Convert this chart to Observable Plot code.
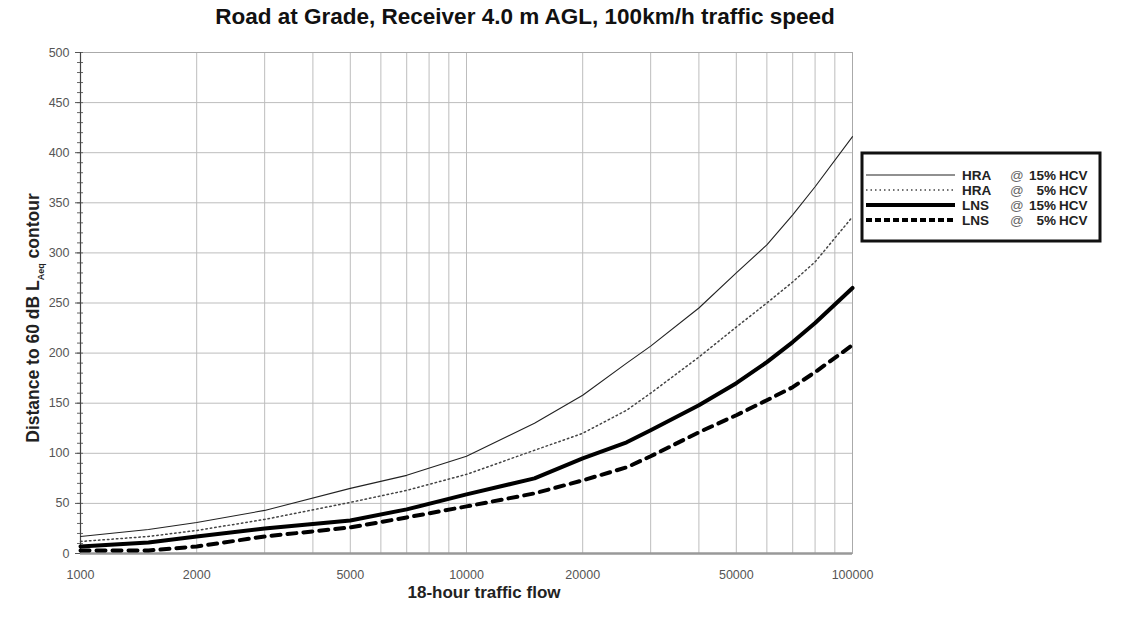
<!DOCTYPE html>
<html><head><meta charset="utf-8">
<script src="https://cdn.jsdelivr.net/npm/d3@7"></script>
<script src="https://cdn.jsdelivr.net/npm/@observablehq/plot@0.6"></script>
<style>
body{margin:0;background:#fff;font-family:"Liberation Sans",Arial,sans-serif;}
#wrap{position:relative;width:1143px;height:633px;overflow:hidden;}
#title{position:absolute;left:0;width:1050px;top:4px;text-align:center;font-weight:bold;font-size:22.5px;color:#111;}
#chart{position:absolute;left:0;top:0;}
#legend{position:absolute;left:0;top:0;}
</style></head><body>
<div id="wrap">
<div id="chart"></div>
<div id="title">Road at Grade, Receiver 4.0 m AGL, 100km/h traffic speed</div>
<svg id="legend" width="1143" height="633"></svg>
</div>
<script>
// ---- data ----
const flows = [1000, 1500, 2000, 3000, 5000, 7000, 10000, 15000, 20000, 26000, 30000, 40000, 50000, 60000, 70000, 80000, 100000];
const hra15 = [17, 24, 31, 43, 65, 78, 97, 130, 158, 190, 207, 245, 280, 308, 338, 366, 416];
const hra5  = [12, 17, 23, 34, 51, 63, 79, 103, 120, 143, 160, 196, 226, 250, 271, 291, 336];
const lns15 = [7, 11, 17, 25, 33, 44, 59, 75, 95, 111, 123, 148, 170, 191, 211, 230, 265];
const lns5  = [3, 3, 7, 17, 26, 36, 47, 60, 73, 86, 97, 121, 138, 153, 166, 181, 208];
const seriesNames = ["HRA @ 15% HCV", "HRA @  5% HCV", "LNS @ 15% HCV", "LNS @  5% HCV"];
const xTickLabels = [1000, 2000, 5000, 10000, 20000, 50000, 100000];
const yTickLabels = [0, 50, 100, 150, 200, 250, 300, 350, 400, 450, 500];

const styles = [
  {stroke: "#222", strokeWidth: 1.1},
  {stroke: "#444", strokeWidth: 1.5, strokeDasharray: "1.5,3"},
  {stroke: "#000", strokeWidth: 4},
  {stroke: "#000", strokeWidth: 4, strokeDasharray: "9,7"}
];
const seriesVals = [hra15, hra5, lns15, lns5];
const tables = seriesVals.map((vals, k) => flows.map((f, i) => ({flow: f, dist: vals[i], series: seriesNames[k]})));

const xGrid = [...d3.range(1000, 10000, 1000), ...d3.range(10000, 100001, 10000)];
const yMinor = d3.range(0, 501, 10);

const chart = Plot.plot({
  width: 1143, height: 633,
  marginLeft: 80, marginRight: 291, marginTop: 52, marginBottom: 80,
  x: {type: "log", domain: [1000, 100000]},
  y: {domain: [0, 500]},
  style: {fontFamily: "Liberation Sans, Arial, sans-serif", background: "#fff"},
  marks: [
    Plot.ruleX(xGrid, {stroke: "#bdbdbd", strokeWidth: 1}),
    Plot.ruleY(yTickLabels, {stroke: "#bdbdbd", strokeWidth: 1}),
    Plot.frame({stroke: "#aaa"}),
    Plot.ruleY(yMinor, {x1: 1000, x2: 1000 * Math.pow(10, 6 / 386), dx: -3, stroke: "#666", strokeWidth: 1}),
    Plot.axisY({ticks: yTickLabels, tickSize: 5, tickPadding: 6, fontSize: 12.5, color: "#555", label: null, tickFormat: d => String(d)}),
    Plot.axisX({ticks: xTickLabels, tickSize: 0, tickPadding: 17, fontSize: 12.5, color: "#555", label: null, tickFormat: d => String(d)}),
    Plot.ruleX([1000], {stroke: "#444", strokeWidth: 1.2}),
    Plot.ruleY([0], {stroke: "#999", strokeWidth: 2.5}),
    ...tables.map((t, k) => Plot.line(t, {x: "flow", y: "dist", ...styles[k], strokeLinejoin: "round"}))
  ]
});
document.getElementById("chart").appendChild(chart);

const svg = d3.select(chart);
// x axis title
svg.append("text").attr("x", 484).attr("y", 598).attr("text-anchor", "middle")
  .attr("font-size", 17).attr("font-weight", "bold").attr("fill", "#222")
  .attr("font-family", "Liberation Sans, Arial, sans-serif").text("18-hour traffic flow");
// y axis title with subscript
const yt = svg.append("text").attr("transform", "translate(39,318) rotate(-90)").attr("text-anchor", "middle")
  .attr("font-size", 17.5).attr("font-weight", "bold").attr("fill", "#222")
  .attr("font-family", "Liberation Sans, Arial, sans-serif");
yt.append("tspan").text("Distance to 60 dB L");
yt.append("tspan").attr("font-size", 9).attr("dy", 5).text("Aeq");
yt.append("tspan").attr("dy", -5).text(" contour");

// legend
const lg = d3.select("#legend");
lg.append("rect").attr("x", 862).attr("y", 153).attr("width", 238).attr("height", 88)
  .attr("fill", "#fff").attr("stroke", "#111").attr("stroke-width", 3);
const rowsY = [175, 190, 205, 220];
seriesNames.forEach((name, k) => {
  const y = rowsY[k];
  const st = styles[k];
  lg.append("line").attr("x1", 866).attr("x2", 955).attr("y1", y).attr("y2", y)
    .attr("stroke", st.stroke).attr("stroke-width", st.strokeWidth)
    .attr("stroke-dasharray", k === 3 ? "6,3" : (st.strokeDasharray || null));
  const parts = name.split(/\s+/); // e.g. HRA @ 15% HCV
  const g = lg.append("g").attr("font-family", "Liberation Sans, Arial, sans-serif").attr("font-size", 13.5).attr("fill", "#222");
  g.append("text").attr("x", 962).attr("y", y + 5).attr("font-weight", "bold").text(parts[0]);
  g.append("text").attr("x", 1010).attr("y", y + 5).attr("fill", "#666").text(parts[1]);
  g.append("text").attr("x", 1056).attr("y", y + 5).attr("text-anchor", "end").attr("font-weight", "bold").text(parts[2]);
  g.append("text").attr("x", 1059).attr("y", y + 5).attr("font-weight", "bold").text(parts[3]);
});
</script>
</body></html>
